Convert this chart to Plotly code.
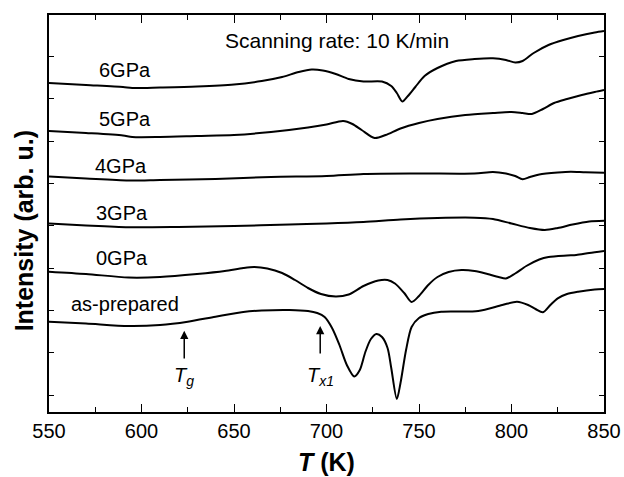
import plotly.graph_objects as go

# Temperature grids (K) and DSC intensity readings (arb. u.) for each curve
T_6 = [550, 570, 590, 595, 610, 630, 650, 665, 676, 685, 692, 698, 705, 712, 720, 730, 735, 738, 741, 744, 748, 753, 760, 770, 780, 790, 797, 802, 806, 812, 820, 828, 836, 845, 850]
I_6 = [329, 327, 325, 324, 324.5, 325.5, 327.5, 331, 335, 340, 342.5, 341.5, 338, 333, 330.5, 330.5, 326, 319, 310.5, 316, 325, 336, 344, 351, 353, 353.7, 352, 349.5, 351, 359, 367, 372, 376, 379.5, 381]

T_5 = [550, 570, 590, 595, 610, 630, 650, 670, 690, 700, 709, 714, 719, 726, 732, 740, 750, 760, 775, 790, 800, 806, 811, 817, 823, 830, 838, 845, 850]
I_5 = [281, 279, 276.5, 275, 275, 276, 277, 280, 284.5, 287.5, 291, 288, 282, 274, 277, 283.5, 289, 293, 297, 299, 300, 299, 298, 303, 309, 313, 317, 320, 322]

T_4 = [550, 570, 593, 610, 640, 670, 700, 720, 750, 780, 790, 797, 802, 806, 810, 815, 825, 832, 840, 850]
I_4 = [235.5, 233.5, 231.5, 232, 233, 235, 236, 238, 238.5, 238.5, 240, 238.5, 236, 232.7, 235, 237.5, 239.5, 240.3, 239.7, 239.3]

T_3 = [550, 570, 593, 620, 650, 680, 700, 720, 740, 760, 780, 790, 800, 810, 818, 825, 833, 842, 850]
I_3 = [188.5, 186.5, 184.7, 185, 186, 187.5, 188.5, 190, 192.5, 194, 194.3, 193, 188.5, 184, 182, 184, 187.5, 190.5, 191.3]

T_0 = [550, 570, 593, 610, 630, 645, 655, 661, 668, 676, 683, 690, 697, 705, 712, 720, 728, 733, 737, 742, 746, 750, 755, 760, 766, 773, 780, 787, 793, 797, 802, 808, 815, 820, 830, 835, 842, 850]
I_0 = [140.3, 138, 134.5, 135, 138, 141, 144, 145, 143.5, 139, 132, 124, 118, 115.5, 117.5, 126, 131.5, 132, 128.5, 119, 110, 116, 127, 135, 140, 142, 141, 138, 135, 133.5, 138.5, 146, 152.5, 155, 156.5, 157, 159, 161]

T_ap = [550, 570, 593, 610, 625, 640, 655, 665, 680, 690, 695, 699, 703, 707, 711, 715, 718, 721, 724, 727, 730, 733, 735, 738, 740, 743, 746, 750, 755, 762, 782, 795, 803, 809, 813, 817, 821, 825, 830, 836, 845, 850]
I_ap = [90.3, 88.5, 86, 87, 90.3, 95.3, 100, 101.5, 102, 101, 99, 95, 84, 67, 47, 35.5, 42, 60, 73, 78, 75, 64, 44, 13, 29, 62, 85, 94, 98, 100.3, 101, 107, 110.3, 107, 103, 99.7, 107, 113.7, 118, 120.3, 122.5, 123]

curve_labels = ["6GPa", "5GPa", "4GPa", "3GPa", "0GPa", "as-prepared"]
label_T = [575.8, 575.8, 573.6, 574.5, 574.5, 560.8]
label_I = [342, 293, 246, 199, 154.5, 108]

x_ticks = [550, 600, 650, 700, 750, 800, 850]
y_tick_vals = [17, 59.3, 101.6, 143.9, 186.2, 228.5, 270.8, 313.1, 355.4]

FONT = "Arial, Liberation Sans, Helvetica, sans-serif"

fig = go.Figure()
for xs, ys in [(T_6, I_6), (T_5, I_5), (T_4, I_4), (T_3, I_3), (T_0, I_0), (T_ap, I_ap)]:
    fig.add_trace(go.Scatter(x=xs, y=ys, mode="lines",
                             line=dict(color="black", width=2, shape="spline", smoothing=0.8),
                             showlegend=False, hoverinfo="skip"))

annotations = []
for txt, tx, ty in zip(curve_labels, label_T, label_I):
    annotations.append(dict(x=tx, y=ty, xref="x", yref="y", text=txt, showarrow=False,
                            xanchor="left", yanchor="middle",
                            font=dict(family=FONT, size=20, color="black")))
annotations.append(dict(x=705.7, y=372, xref="x", yref="y", text="Scanning rate: 10 K/min",
                        showarrow=False, xanchor="center", yanchor="middle",
                        font=dict(family=FONT, size=21, color="black")))
# Tg and Tx1 arrows
for tx, y0, y1 in [(623.1, 52, 81.3), (696.6, 57, 86)]:
    annotations.append(dict(x=tx, y=y1, ax=tx, ay=y0, xref="x", yref="y", axref="x", ayref="y",
                            text="", showarrow=True, arrowhead=2, arrowsize=1.1, arrowwidth=1.5,
                            arrowcolor="black"))
annotations.append(dict(x=623.1, y=36, xref="x", yref="y", text="<i>T<sub>g</sub></i>",
                        showarrow=False, xanchor="center", yanchor="middle",
                        font=dict(family=FONT, size=20, color="black")))
annotations.append(dict(x=696.6, y=36, xref="x", yref="y", text="<i>T<sub>x1</sub></i>",
                        showarrow=False, xanchor="center", yanchor="middle",
                        font=dict(family=FONT, size=20, color="black")))
# Axis titles
annotations.append(dict(x=0, y=0.455, xref="paper", yref="paper", xshift=-25,
                        text="<b>Intensity (arb. u.)</b>", textangle=-90, showarrow=False,
                        xanchor="center", yanchor="middle",
                        font=dict(family=FONT, size=25, color="black")))
annotations.append(dict(x=0.5, y=0, xref="paper", yref="paper", yshift=-50,
                        text="<b><i>T</i> (K)</b>", showarrow=False,
                        xanchor="center", yanchor="middle",
                        font=dict(family=FONT, size=25, color="black")))

fig.update_layout(
    width=624, height=477,
    margin=dict(l=49, r=20, t=15, b=65, autoexpand=False),
    paper_bgcolor="white", plot_bgcolor="white",
    font=dict(family=FONT, color="black"),
    annotations=annotations,
    xaxis=dict(range=[550, 850], tickvals=x_ticks, ticktext=[str(v) for v in x_ticks],
               ticks="inside", ticklen=8, tickwidth=1.3, tickcolor="black",
               minor=dict(tickvals=[575, 625, 675, 725, 775, 825], ticks="inside", ticklen=5,
                          tickwidth=1.3, tickcolor="black"),
               showline=True, linecolor="black", linewidth=1.5, mirror="ticks",
               showgrid=False, zeroline=False, automargin=False,
               tickfont=dict(family=FONT, size=20, color="black")),
    yaxis=dict(range=[0, 397], tickvals=y_tick_vals, showticklabels=False,
               ticks="inside", ticklen=5, tickwidth=1.3, tickcolor="black",
               showline=True, linecolor="black", linewidth=1.5, mirror="ticks",
               showgrid=False, zeroline=False, automargin=False),
)

fig.write_html("out.html", config={"displayModeBar": False},
               post_script="document.body.style.margin='0';document.body.style.overflow='hidden';")
